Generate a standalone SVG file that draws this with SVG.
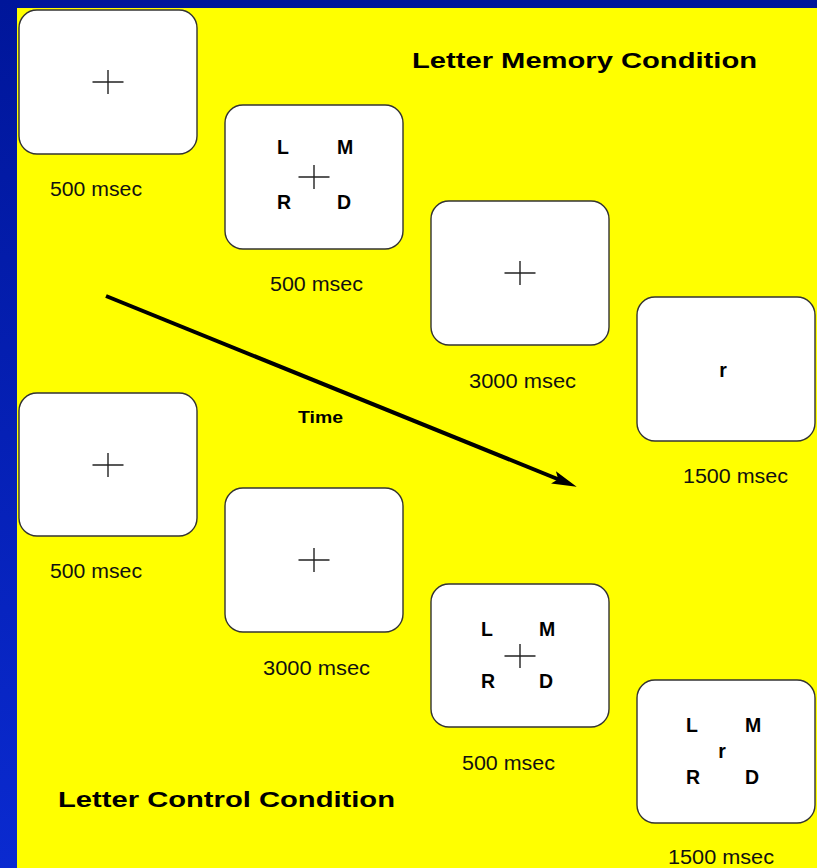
<svg xmlns="http://www.w3.org/2000/svg" width="817" height="868" viewBox="0 0 817 868">
  <defs>
    <linearGradient id="bg" x1="0" y1="0" x2="0" y2="1">
      <stop offset="0" stop-color="#00169a"/>
      <stop offset="1" stop-color="#0a2ad0"/>
    </linearGradient>
    <marker id="head" markerUnits="userSpaceOnUse" markerWidth="40" markerHeight="20" viewBox="-10 -10 30 20" refX="0" refY="0" orient="auto" overflow="visible">
      <path d="M18,0 L-7,-6.5 L-2,0 L-7,6.5 Z" fill="#000"/>
    </marker>
    <g id="cross">
      <path d="M-15.5,0 H15.5 M0,-12 V12" stroke="#222" stroke-width="1.4" fill="none"/>
    </g>
  </defs>
  <style>
    .screen { fill: #ffffff; stroke: #333333; stroke-width: 1.4; }
    .dur { font-family: "Liberation Sans", Arial, sans-serif; font-size: 19.5px; fill: #111; }
    .title { font-family: "Liberation Sans", Arial, sans-serif; font-size: 21.5px; font-weight: bold; fill: #000; }
    .let { font-family: "Liberation Sans", Arial, sans-serif; font-size: 19.5px; font-weight: bold; fill: #000; }
    .time { font-family: "Liberation Sans", Arial, sans-serif; font-size: 16.5px; font-weight: bold; fill: #000; }
  </style>

  <rect x="0" y="0" width="817" height="868" fill="url(#bg)"/>
  <rect x="17" y="8" width="800" height="860" fill="#ffff00"/>

  <text class="title" x="412" y="68" textLength="345" lengthAdjust="spacingAndGlyphs">Letter Memory Condition</text>
  <text class="title" x="58" y="807" textLength="337" lengthAdjust="spacingAndGlyphs">Letter Control Condition</text>

  <g id="connectors">
    <line x1="106" y1="296" x2="560" y2="480" stroke="#000" stroke-width="4" marker-end="url(#head)"/>
    <text class="time" x="298" y="423" textLength="45" lengthAdjust="spacingAndGlyphs">Time</text>
  </g>

  <!-- Letter Memory Condition -->
  <g id="mem1">
    <rect class="screen" x="19" y="10" width="178" height="144" rx="18"/>
    <use href="#cross" x="108" y="82"/>
    <text class="dur" x="50" y="196" textLength="92" lengthAdjust="spacingAndGlyphs">500 msec</text>
  </g>
  <g id="mem2">
    <rect class="screen" x="225" y="105" width="178" height="144" rx="18"/>
    <use href="#cross" x="314" y="177"/>
    <text class="let" x="277" y="154">L</text>
    <text class="let" x="337" y="154">M</text>
    <text class="let" x="277" y="209">R</text>
    <text class="let" x="337" y="209">D</text>
    <text class="dur" x="270" y="291" textLength="93" lengthAdjust="spacingAndGlyphs">500 msec</text>
  </g>
  <g id="mem3">
    <rect class="screen" x="431" y="201" width="178" height="144" rx="18"/>
    <use href="#cross" x="520" y="273"/>
    <text class="dur" x="469" y="388" textLength="107" lengthAdjust="spacingAndGlyphs">3000 msec</text>
  </g>
  <g id="mem4">
    <rect class="screen" x="637" y="297" width="178" height="144" rx="18"/>
    <text class="let" x="723" y="377" text-anchor="middle">r</text>
    <text class="dur" x="683" y="483" textLength="105" lengthAdjust="spacingAndGlyphs">1500 msec</text>
  </g>

  <!-- Letter Control Condition -->
  <g id="ctl1">
    <rect class="screen" x="19" y="393" width="178" height="143" rx="18"/>
    <use href="#cross" x="108" y="465"/>
    <text class="dur" x="50" y="578" textLength="92" lengthAdjust="spacingAndGlyphs">500 msec</text>
  </g>
  <g id="ctl2">
    <rect class="screen" x="225" y="488" width="178" height="144" rx="18"/>
    <use href="#cross" x="314" y="560"/>
    <text class="dur" x="263" y="675" textLength="107" lengthAdjust="spacingAndGlyphs">3000 msec</text>
  </g>
  <g id="ctl3">
    <rect class="screen" x="431" y="584" width="178" height="143" rx="18"/>
    <use href="#cross" x="520" y="656"/>
    <text class="let" x="481" y="636">L</text>
    <text class="let" x="539" y="636">M</text>
    <text class="let" x="481" y="688">R</text>
    <text class="let" x="539" y="688">D</text>
    <text class="dur" x="462" y="770" textLength="93" lengthAdjust="spacingAndGlyphs">500 msec</text>
  </g>
  <g id="ctl4">
    <rect class="screen" x="637" y="680" width="178" height="143" rx="18"/>
    <text class="let" x="686" y="732">L</text>
    <text class="let" x="745" y="732">M</text>
    <text class="let" x="722" y="758" text-anchor="middle">r</text>
    <text class="let" x="686" y="784">R</text>
    <text class="let" x="745" y="784">D</text>
    <text class="dur" x="668" y="864" textLength="106" lengthAdjust="spacingAndGlyphs">1500 msec</text>
  </g>
</svg>
